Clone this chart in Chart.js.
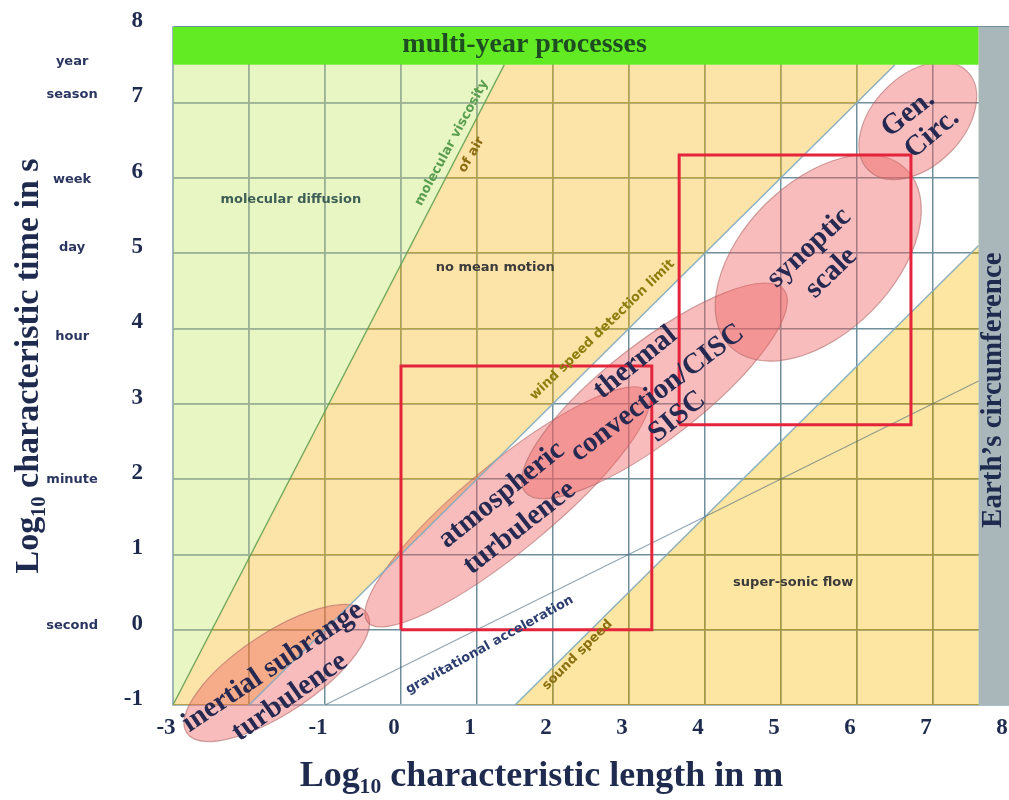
<!DOCTYPE html>
<html><head><meta charset="utf-8">
<script src="https://cdn.jsdelivr.net/npm/chart.js@4.4.0/dist/chart.umd.min.js"></script>
<style>html,body{margin:0;padding:0;background:#fff;}#wrap{width:1009px;height:800px;}</style>
</head><body><div id="wrap"><canvas id="c" width="1009" height="800"></canvas></div>
<script>
// ---- axis ticks ----
const xTicks = [-3, -2, -1, 0, 1, 2, 3, 4, 5, 6, 7, 8];
const yTicks = [-1, 0, 1, 2, 3, 4, 5, 6, 7, 8];
const timeNames = ['second', 'minute', 'hour', 'day', 'week', 'season', 'year'];
const timeLogs = [0.06, 1.99, 3.89, 5.07, 5.97, 7.10, 7.54];

// ---- boundary lines (log10 length m, log10 time s) ----
const viscosityX = [-3, 1.36], viscosityY = [-1, 7.5];
const windLimitX = [-2, 6.5], windLimitY = [-1, 7.5];
const soundSpeedX = [1.5, 7.6], soundSpeedY = [-1, 5.1];
const gravityX = [-1, 7.6], gravityY = [-1, 3.3];
const multiYearY = [7.5, 8];
const earthX = [7.6, 8];

// ---- process ellipses: ends of long axis and half width (decades of time) ----
const procNames = ['inertial subrange turbulence', 'atmospheric turbulence', 'thermal convection/CISC SISC', 'synoptic scale', 'Gen. Circ.'];
const procX1 = [-2.82, -0.44, 1.63, 4.33, 6.15];
const procY1 = [-1.37, 0.10, 1.83, 3.76, 6.10];
const procX2 = [-0.45, 3.24, 5.04, 6.65, 7.45];
const procY2 = [0.22, 3.16, 4.51, 6.11, 7.41];
const procHalfW = [0.53, 0.58, 0.64, 1.0, 0.6];

// ---- red boxes ----
const boxX0 = [0, 3.66], boxX1 = [3.3, 6.71];
const boxY0 = [0, 2.72], boxY1 = [3.5, 6.3];

const NAVY = '#1e2b4f';
const pt = (x, y) => ({x, y});
const bgPoly = [pt(-3, -1), pt(8, -1), pt(8, 8), pt(-3, 8)];
const greenPoly = [pt(viscosityX[0], viscosityY[0]), pt(viscosityX[1], viscosityY[1]), pt(-3, viscosityY[1])];
const orangePoly = [pt(viscosityX[0], viscosityY[0]), pt(viscosityX[1], viscosityY[1]), pt(windLimitX[1], windLimitY[1]), pt(windLimitX[0], windLimitY[0])];
const whitePoly = [pt(windLimitX[0], windLimitY[0]), pt(windLimitX[1], windLimitY[1]), pt(earthX[0], multiYearY[0]), pt(soundSpeedX[1], soundSpeedY[1]), pt(soundSpeedX[0], soundSpeedY[0])];
const sonicPoly = [pt(soundSpeedX[0], soundSpeedY[0]), pt(soundSpeedX[1], soundSpeedY[1]), pt(earthX[0], -1)];
const line = (xs, ys) => xs.map((x, i) => pt(x, ys[i]));
const boxes = boxX0.map((_, i) => [pt(boxX0[i], boxY0[i]), pt(boxX1[i], boxY0[i]), pt(boxX1[i], boxY1[i]), pt(boxX0[i], boxY1[i]), pt(boxX0[i], boxY0[i])]);

const SMALL = '"DejaVu Sans", sans-serif';
const notes = [
  {t: 'molecular diffusion', x: -1.45, y: 5.71, a: 0, f: 'bold 13px ' + SMALL, c: '#3d5e55'},
  {t: 'no mean motion', x: 1.24, y: 4.80, a: 0, f: 'bold 13px ' + SMALL, c: '#3b3b3b'},
  {t: 'super-sonic flow', x: 5.16, y: 0.63, a: 0, f: 'bold 13px ' + SMALL, c: '#3b3b3b'},
  {t: 'molecular viscosity', x: 0.666, y: 6.464, a: 61.7, f: 'bold 13px ' + SMALL, c: '#5a9e50'},
  {t: 'of air', x: 0.929, y: 6.304, a: 60, f: 'bold 13px ' + SMALL, c: '#8a6d10'},
  {t: 'wind speed detection limit', x: 2.65, y: 3.98, a: 44, f: 'bold 13px ' + SMALL, c: '#8c7e0c'},
  {t: 'gravitational acceleration', x: 1.166, y: -0.203, a: 29, f: 'bold 13px ' + SMALL, c: '#2c3e70'},
  {t: 'sound speed', x: 2.322, y: -0.336, a: 45, f: 'bold 13px ' + SMALL, c: '#8a7010'},
  {t: 'multi-year processes', x: 1.626, y: 7.765, a: 0, f: 'bold 28px "Liberation Serif"', c: '#1f4d22'},
  {t: 'Earth\u2019s circumference', x: 7.80, y: 3.18, a: 90, f: 'bold 29px "Liberation Serif"', c: NAVY}
];
const EF = 'bold 29px "Liberation Serif"', EC = '#262a52';
const procText = [
  {t: 'inertial subrange', x: -1.686, y: -0.495, a: 34},
  {t: 'turbulence', x: -1.463, y: -0.894, a: 35},
  {t: 'atmospheric', x: 1.323, y: 1.789, a: 39},
  {t: 'turbulence', x: 1.56, y: 1.351, a: 38},
  {t: 'thermal', x: 3.084, y: 3.542, a: 39},
  {t: 'convection/CISC', x: 3.373, y: 3.143, a: 37},
  {t: 'SISC', x: 3.636, y: 2.825, a: 39},
  {t: 'synoptic', x: 5.371, y: 5.069, a: 43},
  {t: 'scale', x: 5.66, y: 4.737, a: 44},
  {t: 'Gen.', x: 6.672, y: 6.849, a: 38},
  {t: 'Circ.', x: 6.987, y: 6.583, a: 40}
];

function polyDs(label, data, color, order) {
  return {label, data, showLine: true, fill: 'shape', backgroundColor: color, borderWidth: 0, borderColor: 'transparent', pointRadius: 0, order};
}
function lineDs(label, data, color, width, order) {
  return {label, data, showLine: true, fill: false, borderColor: color, borderWidth: width, pointRadius: 0, order};
}

const align = (p, w) => Math.round(p - w / 2) + w / 2;

const sketch = {
  id: 'sketch',
  beforeDatasetsDraw(chart) {
    const {ctx, chartArea: ca, scales: {x: xs, y: ys}} = chart;
    const X = v => xs.getPixelForValue(v), Y = v => ys.getPixelForValue(v);
    const gx = xs.ticks.map(t => align(X(t.value), 1.5));
    const gy = ys.ticks.map(t => align(Y(t.value), 1.5));
    function gridIn(polys, color) {
      ctx.save();
      ctx.beginPath();
      polys.forEach(poly => { poly.forEach((p, i) => i ? ctx.lineTo(X(p.x), Y(p.y)) : ctx.moveTo(X(p.x), Y(p.y))); ctx.closePath(); });
      ctx.clip();
      ctx.strokeStyle = color; ctx.lineWidth = 1.5;
      ctx.beginPath();
      gx.forEach(px => { ctx.moveTo(px, ca.top); ctx.lineTo(px, ca.bottom); });
      gy.forEach(py => { ctx.moveTo(ca.left, py); ctx.lineTo(ca.right, py); });
      ctx.stroke();
      ctx.restore();
    }
    gridIn([greenPoly], '#9db392');
    gridIn([orangePoly], '#b7a24c');
    gridIn([sonicPoly], '#aa983e');
    // process ellipses
    procX1.forEach((_, i) => {
      const x1 = X(procX1[i]), y1 = Y(procY1[i]), x2 = X(procX2[i]), y2 = Y(procY2[i]);
      const a = Math.hypot(x2 - x1, y2 - y1) / 2;
      const b = Math.abs(Y(0) - Y(procHalfW[i]));
      ctx.save();
      ctx.beginPath();
      ctx.ellipse((x1 + x2) / 2, (y1 + y2) / 2, a, b, Math.atan2(y2 - y1, x2 - x1), 0, Math.PI * 2);
      ctx.fillStyle = 'rgba(238,95,95,0.42)';
      ctx.fill();
      ctx.strokeStyle = 'rgba(170,95,95,0.55)';
      ctx.lineWidth = 1.2;
      ctx.stroke();
      ctx.restore();
    });
  },
  afterDatasetsDraw(chart) {
    const {ctx, scales: {x: xs, y: ys}} = chart;
    const X = v => xs.getPixelForValue(v), Y = v => ys.getPixelForValue(v);
    ctx.save();
    ctx.fillStyle = '#62ea22';
    ctx.fillRect(X(-3), Y(multiYearY[1]), X(earthX[0]) - X(-3), Y(multiYearY[0]) - Y(multiYearY[1]));
    ctx.fillStyle = '#a9b6ba';
    ctx.fillRect(X(earthX[0]), Y(8), X(earthX[1]) - X(earthX[0]), Y(-1) - Y(8));
    ctx.restore();
    const txt = (s, px, py, a, f, c) => {
      ctx.save(); ctx.translate(px, py); ctx.rotate(-a * Math.PI / 180);
      ctx.font = f; ctx.fillStyle = c; ctx.textAlign = 'center'; ctx.textBaseline = 'middle';
      ctx.fillText(s, 0, 0); ctx.restore();
    };
    notes.forEach(n => txt(n.t, X(n.x), Y(n.y), n.a, n.f, n.c));
    procText.forEach(n => txt(n.t, X(n.x), Y(n.y), n.a, EF, EC));
  }
};

const serif = (size) => ({family: '"Liberation Serif", "Times New Roman", serif', weight: 'bold', size});

new Chart(document.getElementById('c'), {
  type: 'line',
  data: {
    datasets: [
      lineDs('box 1', boxes[0], '#e3243b', 3, 0),
      lineDs('box 2', boxes[1], '#e3243b', 3, 0),
      lineDs('gravitational acceleration', line(gravityX, gravityY), 'rgba(60,95,120,0.55)', 1.2, 1),
      lineDs('sound speed', line(soundSpeedX, soundSpeedY), 'rgba(130,170,190,0.9)', 1.5, 1),
      lineDs('wind speed detection limit', line(windLimitX, windLimitY), 'rgba(130,170,190,0.9)', 1.5, 1),
      lineDs('molecular viscosity of air', line(viscosityX, viscosityY), 'rgba(100,160,80,0.9)', 1.3, 1),
      polyDs('super-sonic flow', sonicPoly, '#fce6a2', 6),
      polyDs('white band', whitePoly, '#ffffff', 7),
      polyDs('no mean motion', orangePoly, '#fce3a8', 8),
      polyDs('molecular diffusion', bgPoly, '#e8f6c4', 9)
    ]
  },
  options: {
    responsive: false,
    animation: false,
    events: [],
    layout: {padding: {top: 27, right: 0, bottom: 0, left: 0}},
    elements: {line: {tension: 0}, point: {radius: 0}},
    plugins: {legend: {display: false}, tooltip: {enabled: false}, filler: {drawTime: 'beforeDraw', propagate: false}},
    scales: {
      x: {
        type: 'linear', min: -3, max: 8,
        afterBuildTicks: s => { s.ticks = xTicks.map(v => ({value: v})); },
        afterFit: s => { s.height = 95; s.paddingLeft = 0; s.paddingRight = 0; },
        ticks: {autoSkip: false, maxRotation: 0, padding: 9, labelOffset: -7, color: NAVY, font: serif(23),
                callback: v => (v === -2 ? '' : String(v))},
        grid: {color: '#6f8f9c', lineWidth: 1.5, drawTicks: false},
        border: {color: '#9fb6c4', width: 1.5},
        title: {display: true, text: 'Log\u2081\u2080 characteristic length in m' + ' '.repeat(11),
                color: NAVY, font: serif(36), padding: {top: 0, bottom: 2}}
      },
      y: {
        type: 'linear', position: 'left', min: -1, max: 8, weight: 0,
        afterBuildTicks: s => { s.ticks = yTicks.map(v => ({value: v})); },
        afterFit: s => { s.width = 55; s.paddingTop = 0; s.paddingBottom = 0; },
        ticks: {padding: 30, labelOffset: -6, color: NAVY, font: serif(23)},
        grid: {color: '#6f8f9c', lineWidth: 1.5, drawTicks: false},
        border: {color: '#9fb6c4', width: 1.5}
      },
      y2: {
        type: 'linear', position: 'left', min: -1, max: 8, weight: 1,
        afterBuildTicks: s => { s.ticks = timeLogs.map(v => ({value: v})); },
        afterFit: s => { s.width = 118; s.paddingTop = 0; s.paddingBottom = 0; },
        ticks: {crossAlign: 'center', padding: 12, color: '#2a3560', font: {family: SMALL, weight: 'bold', size: 13},
                callback: v => timeNames[timeLogs.indexOf(v)]},
        grid: {display: false},
        border: {display: false},
        title: {display: true, text: 'Log\u2081\u2080 characteristic time in s', color: NAVY, font: serif(34), padding: {top: 9, bottom: 0}}
      }
    }
  },
  plugins: [sketch]
});
</script>
</body></html>
